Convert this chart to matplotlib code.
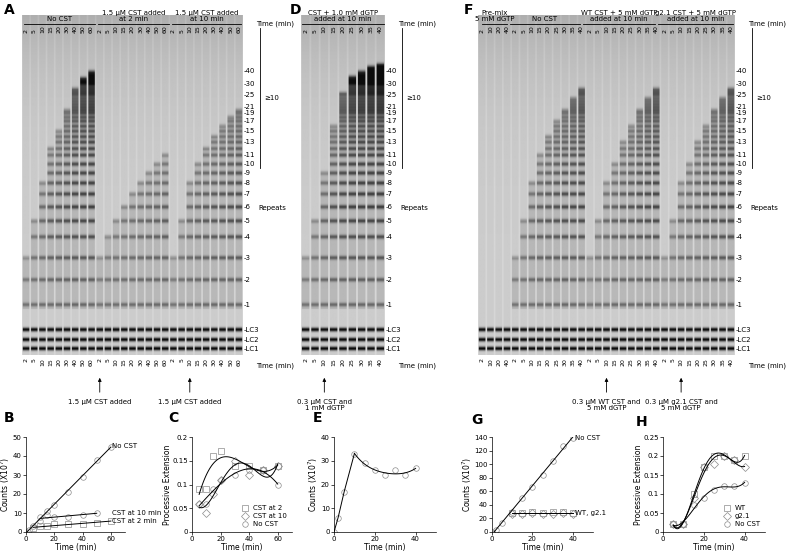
import numpy as np
import matplotlib
matplotlib.use("Agg")
import matplotlib.pyplot as plt

W, H = 790, 556

# ---- gel data ----
repeat_nums = [1, 2, 3, 4, 5, 6, 7, 8, 9, 10, 11, 13, 15, 17, 19, 21, 25, 30, 40]
repeat_y = [305, 280, 258, 237, 221, 207, 194, 183, 173, 164, 155, 142, 131, 121, 113, 107, 95, 84, 71]
lc_labels = ["LC3", "LC2", "LC1"]
lc_y = [330, 340, 349]

a_times = [2, 5, 10, 15, 20, 30, 40, 50, 60] * 3
a_reach = [3, 5, 8, 12, 15, 20, 28, 35, 40,
           3, 4, 5, 6, 7, 8, 9, 10, 11,
           3, 5, 8, 10, 12, 14, 16, 18, 20]
d_times = [2, 5, 10, 15, 20, 25, 30, 35, 40]
d_reach = [3, 5, 9, 16, 26, 36, 40, 44, 46]
f_times = [2, 10, 20, 40] + [2, 5, 10, 15, 20, 25, 30, 35, 40] * 3
f_reach = [0, 0, 0, 0,
           3, 5, 8, 11, 14, 17, 20, 24, 28,
           3, 5, 8, 10, 13, 16, 20, 24, 28,
           3, 5, 8, 10, 13, 16, 20, 24, 28]

# ---- plot data ----
b_t = [0, 2, 5, 10, 15, 20, 30, 40, 50, 60]
b_nocst = [0, 1, 3, 8, 11, 14, 21, 29, 38, 45]
b_t10 = [10, 15, 20, 30, 40, 50]
b_cst10 = [6, 9, 8, 8, 9, 10]
b_t2 = [5, 10, 15, 20, 30, 40, 50, 60]
b_cst2 = [2, 3, 3, 4, 4, 4, 5, 6]

c_t = [5, 10, 15, 20, 30, 40, 50, 60]
c_cst2 = [0.09, 0.09, 0.16, 0.17, 0.14, 0.14, 0.13, 0.14]
c_cst10 = [0.06, 0.04, 0.08, 0.11, 0.15, 0.12, 0.13, 0.14]
c_nocst = [0.06, 0.06, 0.09, 0.11, 0.12, 0.13, 0.13, 0.10]

e_t = [0, 2, 5, 10, 15, 20, 25, 30, 35, 40]
e_counts = [0, 6, 17, 33, 29, 26, 24, 26, 24, 27]

g_t = [0, 2, 5, 10, 15, 20, 25, 30, 35, 40]
g_nocst = [0, 3, 14, 30, 50, 66, 84, 105, 127, 138]
g_t2 = [10, 15, 20, 25, 30, 35, 40]
g_wt = [28, 28, 30, 28, 29, 30, 28]
g_g21 = [27, 27, 28, 27, 27, 28, 27]

h_t = [5, 10, 15, 20, 25, 30, 35, 40]
h_wt = [0.02, 0.02, 0.10, 0.17, 0.20, 0.20, 0.19, 0.20]
h_g21 = [0.02, 0.02, 0.09, 0.17, 0.18, 0.20, 0.19, 0.17]
h_nocst = [0.02, 0.02, 0.07, 0.09, 0.11, 0.12, 0.12, 0.13]

fig = plt.figure(figsize=(W / 100, H / 100), dpi=100)
bg = fig.add_axes([0, 0, 1, 1])
bg.set_xlim(0, W)
bg.set_ylim(H, 0)
bg.axis("off")

ys = np.arange(15, 356)


def band_y(n):
    return np.interp(n, repeat_nums, repeat_y, right=71 - (n - 40) * 1.2)


def draw_gel(x0, x1, times, reach):
    n = len(times)
    lane_w = (x1 - x0) / n
    img = np.zeros((len(ys), n * 10))
    base = 0.80 - 0.12 * np.exp(-(ys - 15) / 60.0)
    for i, r in enumerate(reach):
        dark = np.zeros(len(ys))
        for k in range(1, int(r) + 1):
            s = 0.55 * (1 - 0.65 * k / (r + 1)) * (0.5 + 0.5 * min(k, 6) / 6)
            dark += s * np.exp(-((ys - band_y(k)) / 2.0) ** 2)
        if r > 0:
            top = band_y(r)
            dark += 0.08 * ((ys > top) & (ys < 310))
        for yy in lc_y:
            dark += 0.75 * np.exp(-((ys - yy) / 2.0) ** 2)
        col = np.clip(base - dark, 0.05, 1)
        img[:, i * 10 + 1:i * 10 + 9] = col[:, None]
        img[:, i * 10] = base + 0.04
        img[:, i * 10 + 9] = base + 0.04
    bg.imshow(img, cmap="gray", vmin=0, vmax=1, aspect="auto",
              extent=[x0, x1, 355, 15], interpolation="bilinear")
    for i, t in enumerate(times):
        xc = x0 + (i + 0.5) * lane_w
        bg.text(xc, 33, str(t), rotation=90, fontsize=4.5, ha="center", va="bottom")
        bg.text(xc, 358, str(t), rotation=90, fontsize=4.5, ha="center", va="top")
    return lane_w


def right_labels(x):
    for n, y in zip(repeat_nums, repeat_y):
        bg.text(x, y, "-" + str(n), fontsize=5, va="center")
    for lab, y in zip(lc_labels, lc_y):
        bg.text(x, y, "-" + lab, fontsize=5, va="center")
    bg.plot([x + 16, x + 16], [28, 168], color="k", lw=0.6)
    bg.text(x + 20, 98, "≥10", fontsize=5, va="center")
    bg.text(x + 14, 208, "Repeats", fontsize=5, va="center")
    bg.text(x + 12, 24, "Time (min)", fontsize=5, va="center")
    bg.text(x + 12, 366, "Time (min)", fontsize=5, va="center")


def header(xa, xb, text):
    bg.plot([xa, xb], [24, 24], color="k", lw=0.6)
    bg.text((xa + xb) / 2, 22, text, fontsize=5, ha="center", va="bottom",
            linespacing=1.0)


def arrow_note(x, text):
    bg.annotate("", xy=(x, 375), xytext=(x, 395),
                arrowprops=dict(arrowstyle="-|>", lw=0.6, color="k",
                                mutation_scale=5))
    bg.text(x, 399, text, fontsize=5, ha="center", va="top", linespacing=1.0)


# panel A
lw = draw_gel(22, 243, a_times, a_reach)
right_labels(244)
header(24, 95, "No CST")
header(98, 169, "1.5 μM CST added\nat 2 min")
header(172, 241, "1.5 μM CST added\nat 10 min")
arrow_note(22 + 9.5 * lw, "1.5 μM CST added")
arrow_note(22 + 20.5 * lw, "1.5 μM CST added")

# panel D
lw = draw_gel(301, 385, d_times, d_reach)
right_labels(386)
header(302, 384, "CST + 1.0 mM dGTP\nadded at 10 min")
arrow_note(301 + 2.5 * lw, "0.3 μM CST and\n1 mM dGTP")

# panel F
lw = draw_gel(478, 735, f_times, f_reach)
right_labels(736)
header(482, 507, "Pre-mix\n5 mM dGTP")
header(510, 580, "No CST")
header(583, 655, "WT CST + 5 mM dGTP\nadded at 10 min")
header(658, 733, "g2.1 CST + 5 mM dGTP\nadded at 10 min")
arrow_note(478 + 15.5 * lw, "0.3 μM WT CST and\n5 mM dGTP")
arrow_note(478 + 24.5 * lw, "0.3 μM g2.1 CST and\n5 mM dGTP")

for lab, x, y in [("A", 4, 10), ("D", 290, 10), ("F", 464, 10),
                  ("B", 4, 418), ("C", 168, 418), ("E", 313, 418),
                  ("G", 471, 420), ("H", 636, 422)]:
    bg.text(x, y, lab, fontsize=10, fontweight="bold", va="center")


def mk_axes(x0, x1, y0=437, y1=532):
    ax = fig.add_axes([x0 / W, 1 - y1 / H, (x1 - x0) / W, (y1 - y0) / H])
    ax.tick_params(labelsize=5, length=2, width=0.5, pad=1)
    for s in ["top", "right"]:
        ax.spines[s].set_visible(False)
    for s in ["left", "bottom"]:
        ax.spines[s].set_linewidth(0.5)
    ax.set_xlabel("Time (min)", fontsize=5.5, labelpad=0.5)
    return ax


mkw = dict(ms=4, mfc="none", mew=0.5, ls="none", color="0.55")


def smooth(ax, x, y, deg=3):
    p = np.polyfit(x, y, deg)
    xx = np.linspace(min(x), max(x), 100)
    ax.plot(xx, np.polyval(p, xx), color="k", lw=0.7)


# B
ax = mk_axes(26, 125)
ax.plot(b_t, b_nocst, "o", **mkw)
ax.plot(b_t10, b_cst10, "o", **mkw)
ax.plot(b_t2, b_cst2, "s", **mkw)
for x, y in [(b_t, b_nocst), (b_t10, b_cst10), (b_t2, b_cst2)]:
    smooth(ax, x, y, 1)
ax.text(61, 45, "No CST", fontsize=5, va="center")
ax.text(61, 10, "CST at 10 min", fontsize=5, va="center")
ax.text(61, 6, "CST at 2 min", fontsize=5, va="center")
ax.set_xlim(0, 70)
ax.set_ylim(0, 50)
ax.set_ylabel("Counts (X10$^7$)", fontsize=5.5, labelpad=0.5)

# C
ax = mk_axes(192, 292)
ax.plot(c_t, c_cst2, "s", label="CST at 2", **mkw)
ax.plot(c_t, c_cst10, "D", label="CST at 10", **mkw)
ax.plot(c_t, c_nocst, "o", label="No CST", **mkw)
for y in (c_cst2, c_cst10, c_nocst):
    smooth(ax, c_t, y, 4)
ax.set_xlim(0, 70)
ax.set_ylim(0, 0.2)
ax.set_yticks([0, 0.05, 0.1, 0.15, 0.2])
ax.set_yticklabels(["0", "0.05", "0.1", "0.15", "0.2"])
ax.set_ylabel("Processive Extension", fontsize=5.5, labelpad=0.5)
ax.legend(fontsize=5, frameon=False, loc="lower right", handletextpad=0.2,
          borderpad=0.2, labelspacing=0.3)

# E
ax = mk_axes(334, 436)
ax.plot(e_t, e_counts, "o", **mkw)
ax.plot(e_t[:4], e_counts[:4], color="k", lw=0.7)
smooth(ax, e_t[3:], e_counts[3:], 4)
ax.set_xlim(0, 50)
ax.set_ylim(0, 40)
ax.set_ylabel("Counts (X10$^7$)", fontsize=5.5, labelpad=0.5)

# G
ax = mk_axes(492, 593)
ax.plot(g_t, g_nocst, "o", **mkw)
ax.plot(g_t2, g_wt, "s", **mkw)
ax.plot(g_t2, g_g21, "D", **mkw)
smooth(ax, g_t, g_nocst, 1)
smooth(ax, g_t2, g_wt, 0)
ax.text(41, 138, "No CST", fontsize=5, va="center")
ax.text(41, 28, "WT, g2.1", fontsize=5, va="center")
ax.set_xlim(0, 50)
ax.set_ylim(0, 140)
ax.set_yticks(range(0, 141, 20))
ax.set_ylabel("Counts (X10$^7$)", fontsize=5.5, labelpad=0.5)

# H
ax = mk_axes(663, 765)
ax.plot(h_t, h_wt, "s", label="WT", **mkw)
ax.plot(h_t, h_g21, "D", label="g2.1", **mkw)
ax.plot(h_t, h_nocst, "o", label="No CST", **mkw)
for y in (h_wt, h_g21, h_nocst):
    smooth(ax, h_t, y, 4)
ax.set_xlim(0, 50)
ax.set_ylim(0, 0.25)
ax.set_yticks([0, 0.05, 0.1, 0.15, 0.2, 0.25])
ax.set_yticklabels(["0", "0.05", "0.1", "0.15", "0.2", "0.25"])
ax.set_ylabel("Processive Extension", fontsize=5.5, labelpad=0.5)
ax.legend(fontsize=5, frameon=False, loc="lower right", handletextpad=0.2,
          borderpad=0.2, labelspacing=0.3)

fig.savefig("out.png", dpi=100)
